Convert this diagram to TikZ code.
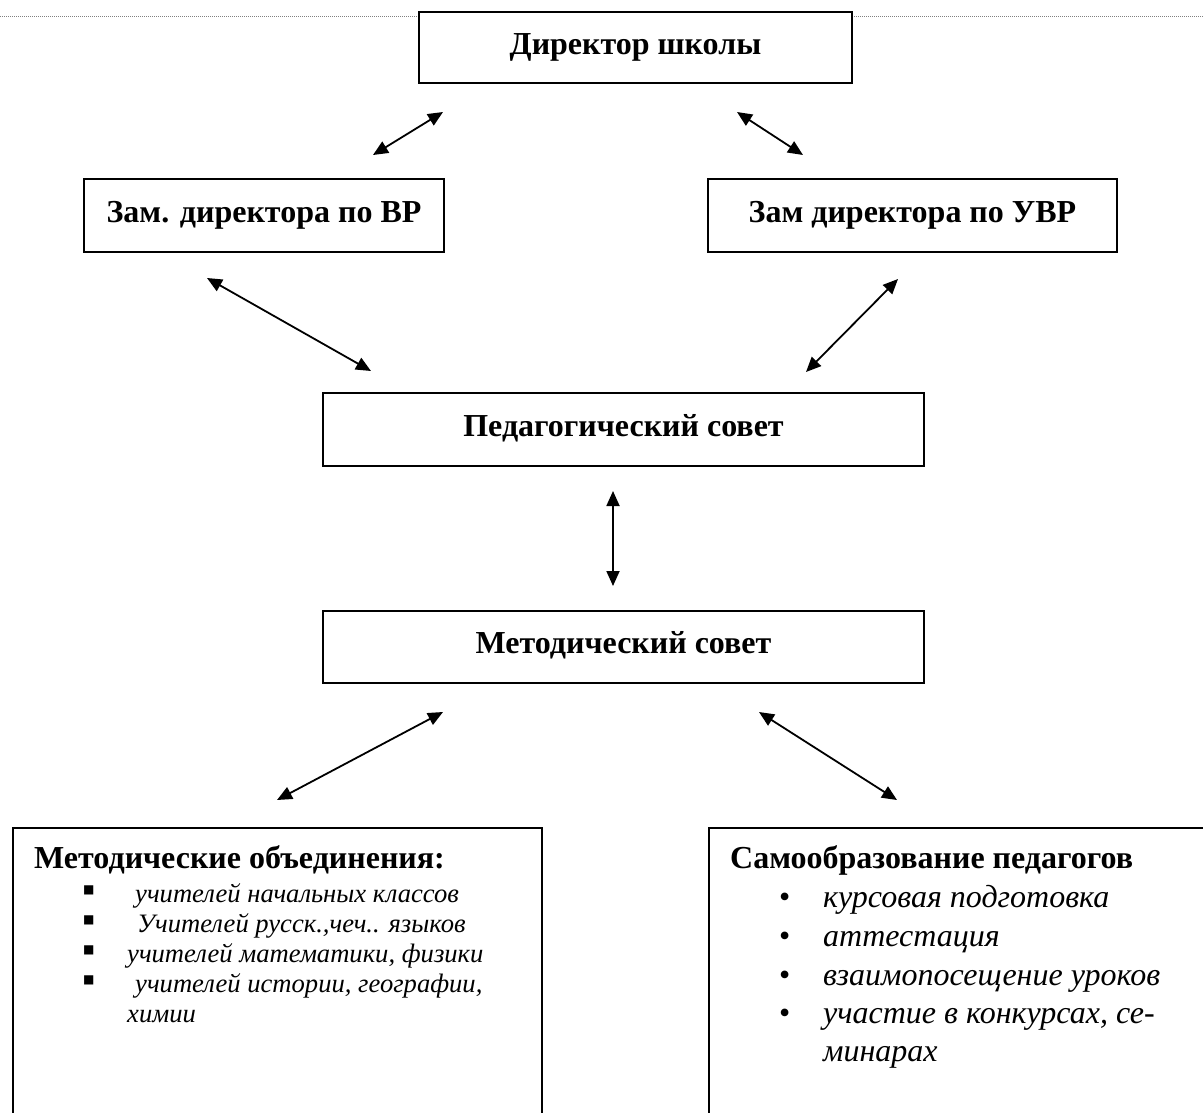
\documentclass[tikz,border=0pt]{standalone}
\usepackage{fontspec}
\setmainfont{Liberation Serif}
\newfontfamily\symfont{DejaVu Sans}
\usetikzlibrary{arrows.meta}
\begin{document}
\begin{tikzpicture}[x=1pt,y=-1pt,
  box/.style={draw, line width=1.8pt, fill=white, inner sep=0pt,
    font=\fontsize{32}{38}\selectfont\bfseries, text height=22pt, text depth=9pt},
  bigbox/.style={draw, line width=1.8pt, inner sep=0pt, anchor=north west, minimum height=400},
  link/.style={{Triangle[length=15pt,width=13pt]}-{Triangle[length=15pt,width=13pt]}, line width=1.8pt},
  ttl/.style={anchor=base west, inner sep=0pt, font=\fontsize{32}{38}\selectfont\bfseries},
  litem/.style={anchor=base west, inner sep=0pt, font=\fontsize{26.6}{30}\selectfont\itshape},
  ritem/.style={anchor=base west, inner sep=0pt, font=\fontsize{32}{38}\selectfont\itshape},
  sqbul/.style={anchor=base west, inner sep=0pt, font=\fontsize{12}{14}\selectfont\symfont},
  dotbul/.style={anchor=base west, inner sep=0pt, font=\fontsize{32}{38}\selectfont}]
\useasboundingbox (0,0) rectangle (1203,1112);
\clip (0,0) rectangle (1203,1112);
\draw[gray, line width=1pt, dash pattern=on 1pt off 1pt] (0,16) -- (1203,16);

\node[box, minimum width=433, minimum height=71] (dir) at (635.5,47.5) {Директор школы};
\node[box, minimum width=360, minimum height=73] (vr) at (264,215.5) {Зам. директора по ВР};
\node[box, minimum width=409, minimum height=73] (uvr) at (912.5,215.5) {Зам директора по УВР};
\node[box, minimum width=601, minimum height=73] (ped) at (623.5,429.5) {Педагогический совет};
\node[box, minimum width=601, minimum height=72] (met) at (623.5,647) {Методический совет};

\node[bigbox, minimum width=529] (mo) at (12,827) {};
\node[bigbox, minimum width=600] (so) at (708,827) {};

\node[ttl] (motitle) at (34,868) {Методические объединения:};
\node[sqbul] (lb1) at (83,893) {■};
\node[sqbul] (lb2) at (83,923) {■};
\node[sqbul] (lb3) at (83,953) {■};
\node[sqbul] (lb4) at (83,983) {■};
\node[litem] (li1) at (135,902) {учителей начальных классов};
\node[litem] (li2) at (137,932) {Учителей русск.,чеч.. языков};
\node[litem] (li3) at (127,962) {учителей математики, физики};
\node[litem] (li4) at (135,992) {учителей истории, географии,};
\node[litem] (li5) at (127,1022) {химии};

\node[ttl] (sotitle) at (730,868) {Самообразование педагогов};
\node[dotbul] (rb1) at (779,907) {•};
\node[dotbul] (rb2) at (779,946) {•};
\node[dotbul] (rb3) at (779,985) {•};
\node[dotbul] (rb4) at (779,1023) {•};
\node[ritem] (ri1) at (823,907) {курсовая подготовка};
\node[ritem] (ri2) at (823,946) {аттестация};
\node[ritem] (ri3) at (823,985) {взаимопосещение уроков};
\node[ritem] (ri4) at (823,1023) {участие в конкурсах, се-};
\node[ritem] (ri5) at (823,1061) {минарах};

\coordinate (a1s) at (373,155); \coordinate (a1e) at (443,112);
\coordinate (a2s) at (737,112); \coordinate (a2e) at (803,155);
\coordinate (a3s) at (207,278); \coordinate (a3e) at (371,371);
\coordinate (a4s) at (806,372); \coordinate (a4e) at (898,279);
\coordinate (a5s) at (613,491); \coordinate (a5e) at (613,586);
\coordinate (a6s) at (443,712); \coordinate (a6e) at (277,800);
\coordinate (a7s) at (759,712); \coordinate (a7e) at (897,800);
\draw[link] (a1s) -- (a1e);
\draw[link] (a2s) -- (a2e);
\draw[link] (a3s) -- (a3e);
\draw[link] (a4s) -- (a4e);
\draw[link] (a5s) -- (a5e);
\draw[link] (a6s) -- (a6e);
\draw[link] (a7s) -- (a7e);
\end{tikzpicture}
\end{document}
